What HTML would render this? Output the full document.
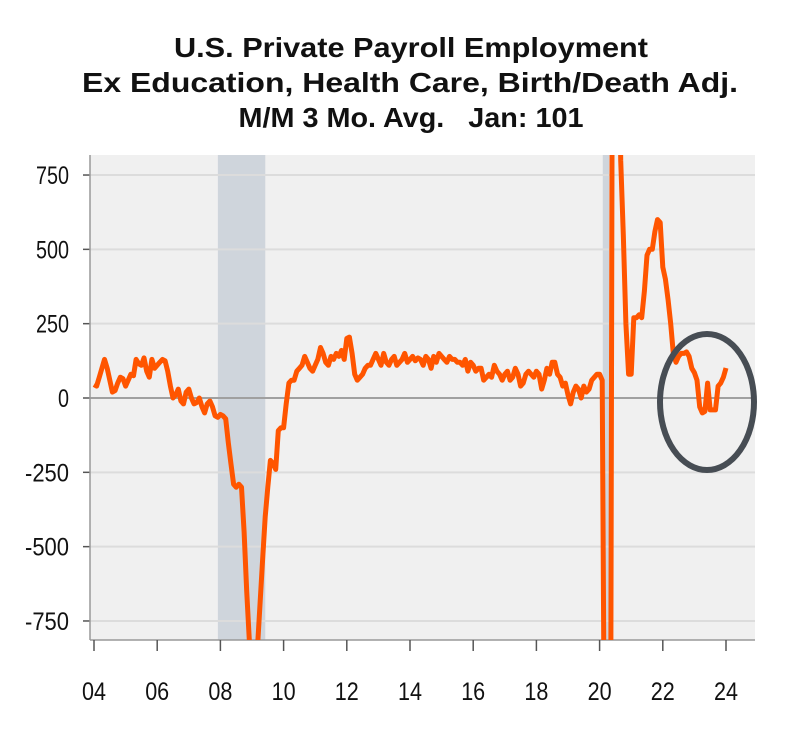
<!DOCTYPE html>
<html><head><meta charset="utf-8"><style>
html,body{margin:0;padding:0;background:#fff;width:788px;height:742px;overflow:hidden;}
svg{display:block;font-family:"Liberation Sans",Arial,sans-serif;}
</style></head><body>
<svg id="chart" width="788" height="742" viewBox="0 0 788 742">
<g font-weight="bold" font-size="28" text-anchor="middle" fill="#111">
<text x="411" y="57" textLength="474" lengthAdjust="spacingAndGlyphs">U.S. Private Payroll Employment</text>
<text x="410" y="92" textLength="656" lengthAdjust="spacingAndGlyphs">Ex Education, Health Care, Birth/Death Adj.</text>
<text x="411" y="127" textLength="345" lengthAdjust="spacingAndGlyphs" xml:space="preserve">M/M 3 Mo. Avg.   Jan: 101</text>
</g>
<rect x="90" y="155" width="665" height="485" fill="#f0f0f0"/>
<defs><clipPath id="clip"><rect x="90" y="155" width="665" height="485"/></clipPath></defs>
<g id="rec"></g>
<g id="grid"></g>
<g id="axes"></g>
<g clip-path="url(#clip)"><path id="line" fill="none" stroke="#ff5500" stroke-width="5" stroke-linejoin="round"/></g>
<ellipse cx="707" cy="402" rx="47" ry="68" fill="none" stroke="#474d54" stroke-width="6"/>
</svg>
<script>
const yTicks=[750,500,250,0,-250,-500,-750];
const yTickLabels=["750","500","250","0","-250","-500","-750"];
const xTicks=[2004,2006,2008,2010,2012,2014,2016,2018,2020,2022,2024];
const xTickLabels=["04","06","08","10","12","14","16","18","20","22","24"];
const recessions=[[2007.92,2009.42],[2020.1,2020.3]];
const startYear=2004;
const values=[
45,40,70,100,130,100,60,20,25,50,70,65,
40,60,80,75,130,115,110,135,90,70,130,100,
110,120,130,125,90,40,0,10,30,-10,-20,20,
30,0,-20,-15,0,-30,-50,-20,-10,-30,-60,-65,
-55,-60,-70,-150,-220,-290,-300,-290,-300,-450,-650,-820,
-900,-950,-850,-700,-550,-400,-300,-210,-220,-240,-110,-100,
-100,-20,50,60,60,90,100,110,140,120,100,90,
110,130,170,150,120,110,140,130,150,140,160,130,
200,205,150,80,60,70,80,100,110,110,130,150,
130,110,150,120,110,130,140,110,120,130,150,120,
130,140,125,135,130,110,140,130,100,140,120,150,
140,130,120,140,130,130,120,120,110,130,90,120,
110,90,100,100,60,70,80,70,110,90,80,60,
80,90,60,70,100,80,40,50,80,90,80,70,
90,80,30,60,100,80,120,120,80,70,40,50,
10,-20,20,40,30,0,40,20,30,60,70,80,
80,60,-1500,-5000,-2000,2000,3000,1800,800,550,250,80,
80,270,270,280,270,360,480,500,500,560,600,590,
440,400,330,250,150,120,140,150,150,155,140,100,
85,60,-30,-50,-45,50,-40,-40,-40,40,50,70,
101];
const NS="http://www.w3.org/2000/svg";
const X=t=>94+(t-2004)*31.6;
const Y=v=>398-v*0.2973;
function mk(tag,attrs,parent){const e=document.createElementNS(NS,tag);for(const k in attrs)e.setAttribute(k,attrs[k]);document.getElementById(parent).appendChild(e);return e;}
recessions.forEach(r=>{
const e=mk('rect',{x:X(r[0]),y:155,width:X(r[1])-X(r[0]),height:485,fill:'#cfd5dc'},'rec');


});
yTicks.forEach((v,i)=>{
const g=mk('line',{x1:90,x2:755,y1:Y(v),y2:Y(v),stroke:v===0?'#a0a0a0':'#dcdcdc','stroke-width':2},'grid');


const t=mk('line',{x1:83,x2:90,y1:Y(v),y2:Y(v),stroke:'#555','stroke-width':1.5},'axes');


const l=mk('text',{x:69,y:Y(v)+9,'text-anchor':'end','font-size':25,fill:'#111',textLength:yTickLabels[i].length*11,lengthAdjust:'spacingAndGlyphs'},'axes');
l.textContent=yTickLabels[i];


});
const ya=mk('line',{x1:90,x2:90,y1:155,y2:640,stroke:'#999','stroke-width':1.5},'axes');


const xa=mk('line',{x1:90,x2:755,y1:640,y2:640,stroke:'#999','stroke-width':1.5},'axes');


xTicks.forEach((t,i)=>{
const k=mk('line',{x1:X(t),x2:X(t),y1:640,y2:651,stroke:'#555','stroke-width':1.5},'axes');


const l=mk('text',{x:X(t),y:700,'text-anchor':'middle','font-size':25,fill:'#111',textLength:24,lengthAdjust:'spacingAndGlyphs'},'axes');
l.textContent=xTickLabels[i];


});
let d='';
values.forEach((v,i)=>{const t=startYear+i/12;d+=(i?'L':'M')+X(t).toFixed(1)+','+Y(v).toFixed(1);});
document.getElementById('line').setAttribute('d',d);
</script>
</body></html>
